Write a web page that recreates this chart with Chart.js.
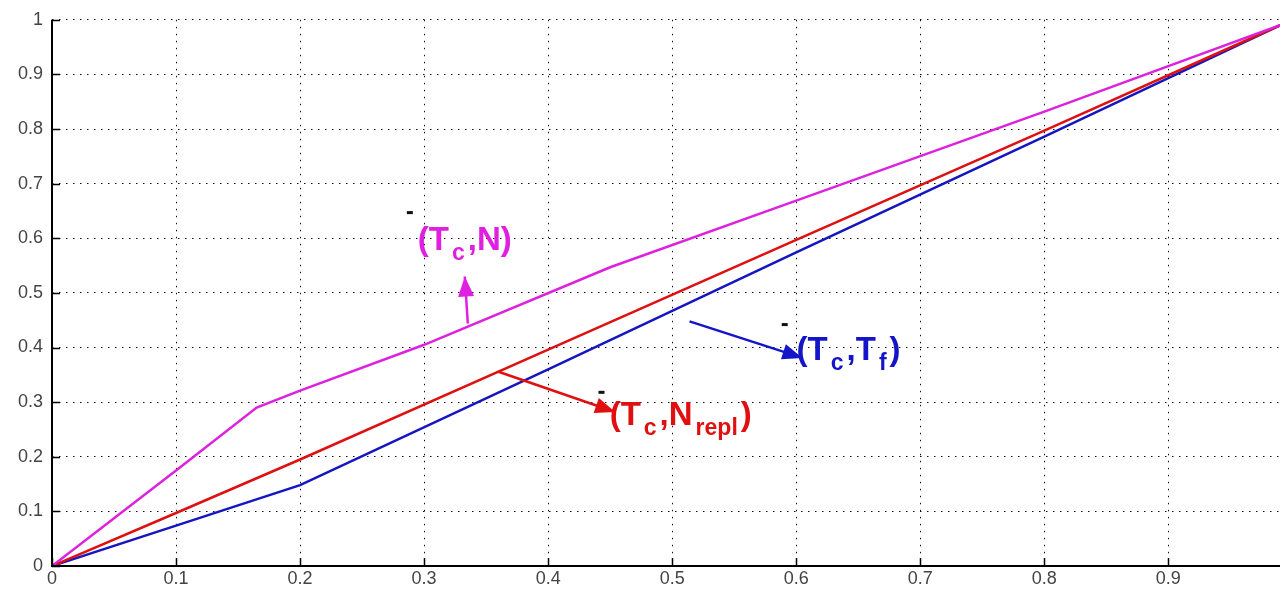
<!DOCTYPE html>
<html>
<head>
<meta charset="utf-8">
<script src="https://cdn.jsdelivr.net/npm/chart.js@4"></script>
<style>
  html, body { margin: 0; padding: 0; background: #fff; }
  #wrap { width: 1281px; height: 590px; }
</style>
</head>
<body>
<div id="wrap"><canvas id="myChart" width="1281" height="590"></canvas></div>
<script>
// data
const xTc = [0, 0.1, 0.165, 0.2, 0.3, 0.45, 0.6, 0.8, 0.99];
const tcN = [0, 0.175, 0.29, 0.321, 0.405, 0.547, 0.669, 0.832, 0.99];
const xRed = [0, 0.1, 0.2, 0.4, 0.6, 0.8, 0.99];
const tcNrepl = [0, 0.097, 0.195, 0.396, 0.597, 0.797, 0.99];
const xBlue = [0, 0.1, 0.2, 0.4, 0.6, 0.8, 0.99];
const tcTf = [0, 0.074, 0.148, 0.36, 0.574, 0.786, 0.99];

const xTicks = [0, 0.1, 0.2, 0.3, 0.4, 0.5, 0.6, 0.7, 0.8, 0.9];
const yTicks = [0, 0.1, 0.2, 0.3, 0.4, 0.5, 0.6, 0.7, 0.8, 0.9, 1];

// curve labels, pieces marked 'sub' are subscripts
const labels = [
    [['(T', ''], ['c', 'sub'], [',N)', '']],
    [['(T', ''], ['c', 'sub'], [',N', ''], ['repl', 'sub'], [')', '']],
    [['(T', ''], ['c', 'sub'], [',T', ''], ['f', 'sub'], [')', '']]
];
const labelColors = ['#e020e0', '#e01010', '#1414c8'];
const labelAt = [[0.2949, 0.578], [0.4496, 0.258], [0.6003, 0.3766]];
const arrows = [
    [0.3352, 0.444, 0.3328, 0.530],
    [0.3594, 0.356, 0.4540, 0.282],
    [0.514, 0.4479, 0.6050, 0.381]
];
const dashes = [[0.2885, 0.647], [0.443, 0.318], [0.5907, 0.442]];

function pts(xs, ys){
    let out = [];
    for(let i = 0; i < xs.length; i++){
        out.push({x: xs[i], y: ys[i]});
    }
    return out;
}

const extras = {
    id: 'extras',
    afterDraw(chart){
        const ctx = chart.ctx;
        const xs = chart.scales.x;
        const ys = chart.scales.y;
        const area = chart.chartArea;
        ctx.save();
        // matlab style inward ticks + axes
        ctx.strokeStyle = '#000';
        ctx.lineWidth = 1.5;
        for(let t of xTicks){
            let px = Math.round(xs.getPixelForValue(t)) + 0.5;
            ctx.beginPath();
            ctx.moveTo(px, area.bottom);
            ctx.lineTo(px, area.bottom - 8);
            ctx.stroke();
        }
        for(let t of yTicks){
            let py = Math.round(ys.getPixelForValue(t)) + 0.5;
            ctx.beginPath();
            ctx.moveTo(area.left, py);
            ctx.lineTo(area.left + 8, py);
            ctx.stroke();
        }
        ctx.lineWidth = 2;
        ctx.beginPath();
        ctx.moveTo(area.left, area.top);
        ctx.lineTo(area.left, area.bottom);
        ctx.lineTo(area.right, area.bottom);
        ctx.stroke();

        // arrows
        for(let i = 0; i < arrows.length; i++){
            let a = arrows[i];
            let x1 = xs.getPixelForValue(a[0]), y1 = ys.getPixelForValue(a[1]);
            let x2 = xs.getPixelForValue(a[2]), y2 = ys.getPixelForValue(a[3]);
            ctx.strokeStyle = labelColors[i];
            ctx.fillStyle = labelColors[i];
            ctx.lineWidth = 2.5;
            ctx.beginPath();
            ctx.moveTo(x1, y1);
            ctx.lineTo(x2, y2);
            ctx.stroke();
            let ang = Math.atan2(y2 - y1, x2 - x1);
            let len = 20, w = 8;
            ctx.beginPath();
            ctx.moveTo(x2, y2);
            ctx.lineTo(x2 - len*Math.cos(ang) + w*Math.sin(ang), y2 - len*Math.sin(ang) - w*Math.cos(ang));
            ctx.lineTo(x2 - len*Math.cos(ang) - w*Math.sin(ang), y2 - len*Math.sin(ang) + w*Math.cos(ang));
            ctx.closePath();
            ctx.fill();
        }

        // little black marks
        ctx.fillStyle = '#111';
        for(let d of dashes){
            let px = xs.getPixelForValue(d[0]), py = ys.getPixelForValue(d[1]);
            ctx.fillRect(px - 3, py - 1.5, 6, 3);
        }

        // labels
        ctx.textBaseline = 'alphabetic';
        ctx.textAlign = 'left';
        for(let i = 0; i < labels.length; i++){
            let px = xs.getPixelForValue(labelAt[i][0]);
            let py = ys.getPixelForValue(labelAt[i][1]);
            ctx.fillStyle = labelColors[i];
            for(let part of labels[i]){
                if(part[1] === 'sub'){
                    ctx.font = 'bold 23px "Liberation Sans", Arial, sans-serif';
                    ctx.fillText(part[0], px, py + 10);
                }else{
                    ctx.font = 'bold 33px "Liberation Sans", Arial, sans-serif';
                    ctx.fillText(part[0], px, py);
                }
                px += ctx.measureText(part[0]).width + 3;
            }
        }
        ctx.restore();
    }
};

const ctx = document.getElementById('myChart').getContext('2d');
const myChart = new Chart(ctx, {
    type: 'line',
    data: {
        datasets: [
            {label: '(Tc,N)', data: pts(xTc, tcN), borderColor: '#dd22dd', borderWidth: 2.5},
            {label: '(Tc,Nrepl)', data: pts(xRed, tcNrepl), borderColor: '#dd1111', borderWidth: 2.5},
            {label: '(Tc,Tf)', data: pts(xBlue, tcTf), borderColor: '#1616c0', borderWidth: 2.5}
        ]
    },
    options: {
        responsive: false,
        animation: false,
        elements: {point: {radius: 0}, line: {tension: 0}},
        layout: {padding: {top: 18, right: 1, left: 0, bottom: 0}},
        plugins: {legend: {display: false}, tooltip: {enabled: false}},
        scales: {
            x: {
                type: 'linear',
                min: 0,
                max: 0.99,
                afterBuildTicks(scale){ scale.ticks = xTicks.map(v => ({value: v})); },
                afterFit(scale){ scale.height = 24; },
                grid: {color: '#111', lineWidth: 1, drawTicks: false},
                border: {display: false, dash: [1.5, 5.5]},
                ticks: {
                    color: '#444',
                    font: {family: '"Liberation Sans", Arial, sans-serif', size: 18},
                    padding: 2,
                    maxRotation: 0,
                    callback: v => String(Math.round(v*10)/10)
                }
            },
            y: {
                type: 'linear',
                min: 0,
                max: 1,
                afterBuildTicks(scale){ scale.ticks = yTicks.map(v => ({value: v})); },
                afterFit(scale){ scale.width = 52; },
                grid: {color: '#111', lineWidth: 1, drawTicks: false},
                border: {display: false, dash: [1.5, 5.5]},
                ticks: {
                    color: '#444',
                    font: {family: '"Liberation Sans", Arial, sans-serif', size: 18},
                    padding: 9,
                    callback: v => String(Math.round(v*10)/10)
                }
            }
        }
    },
    plugins: [extras]
});
</script>
</body>
</html>
